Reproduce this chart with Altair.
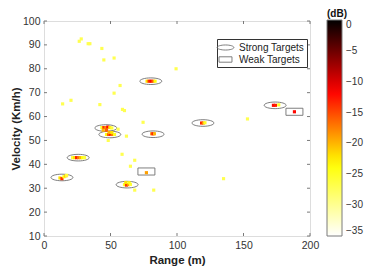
import altair as alt
import pandas as pd

# scattered weak detections (range m, velocity km/h)
noise_x = [26.5, 28, 33.2, 34.5, 43.5, 45, 52.7, 99.3, 57.2, 52.7, 14, 20.3, 42, 59, 60.5,
           74.5, 153, 135, 62, 48.3, 58.7, 68.2, 65, 68.2, 82.5, 55.7]
noise_y = [91.5, 92.5, 90.5, 90.5, 88.5, 83.7, 84.5, 80, 73, 69.8, 65.3, 66.8, 65, 63, 62.5,
           57.6, 59, 34, 51.8, 50, 44.2, 41.7, 39.2, 29.2, 29.2, 54.7]
noise_db = [-27] * len(noise_x)

# detection cells around targets
cell_x = [77.5, 79, 80.5, 82, 83.5,
          172.5, 174, 176.5,
          118.5, 119.8, 121,
          81, 82, 83,
          43.5, 45, 46.5, 48, 49.5, 51, 44.5, 47,
          47, 48.5, 50, 51.5, 53, 49, 51,
          21.5, 23, 24.5, 26, 27.5, 29, 30.5,
          12, 13.5, 15, 16.5, 17,
          60.5, 62, 63.5, 65, 61.5, 64,
          77, 188.3]
cell_y = [74.8, 74.8, 74.8, 74.8, 74.8,
          64.7, 64.7, 64.9,
          57.3, 57.3, 57.4,
          52.8, 52.8, 52.8,
          55.4, 55.4, 55.4, 55.6, 55.4, 55.2, 54.3, 54.3,
          52.5, 52.5, 52.6, 52.5, 52.5, 53.4, 53.3,
          42.8, 42.8, 42.8, 42.8, 42.8, 42.8, 42.8,
          34.3, 34.0, 34.8, 35.2, 35.4,
          31.5, 31.3, 31.5, 31.6, 32.4, 32.3,
          36.5, 62.0]
cell_db = [-22, -14, -12, -16, -24,
           -12, -13, -25,
           -13, -18, -25,
           -18, -12, -20,
           -25, -14, -18, -12, -22, -26, -20, -16,
           -24, -16, -13, -17, -25, -20, -22,
           -26, -22, -13, -17, -20, -24, -26,
           -22, -14, -24, -20, -26,
           -25, -14, -18, -26, -22, -24,
           -19, -12]

# target markers
strong_x = [80.3, 173.8, 119.5, 82, 46.5, 49.5, 25.7, 13.5, 62.5]
strong_y = [74.8, 64.7, 57.3, 52.6, 55.2, 52.5, 42.8, 34.5, 31.5]
weak_x = [77, 188.3]
weak_y = [37, 62]
kinds = ["Strong Targets", "Weak  Targets"]

x_ticks = [0, 50, 100, 150, 200]
y_ticks = [10, 20, 30, 40, 50, 60, 70, 80, 90, 100]
db_ticks = [0, -5, -10, -15, -20, -25, -30, -35]

pts = pd.DataFrame({"x": noise_x + cell_x, "y": noise_y + cell_y, "db": noise_db + cell_db})
tgt = pd.DataFrame({"x": strong_x + weak_x, "y": strong_y + weak_y,
                    "kind": [kinds[0]] * len(strong_x) + [kinds[1]] * len(weak_x)})
xt = pd.DataFrame({"v": x_ticks})
yt = pd.DataFrame({"v": y_ticks})

W, H = 266, 215
FONT = "Liberation Sans"
AX = "#7a7a7a"

xs = alt.Scale(domain=[0, 200], nice=False)
ys = alt.Scale(domain=[10, 100], nice=False)
cs = alt.Scale(domain=[-35, -23.33, -11.67, 0],
               range=["#ffffff", "#ffff00", "#ff0000", "#000000"], interpolate="rgb")

ellipse = "M -1.4 0 A 1.4 0.42 0 1 1 1.4 0 A 1.4 0.42 0 1 1 -1.4 0 Z"
rect = "M -1.08 -0.45 L 1.08 -0.45 L 1.08 0.45 L -1.08 0.45 Z"

common_axis = dict(domain=False, ticks=False, grid=False, labelOverlap=False, labelFlush=False,
                   labelPadding=4, labelFontSize=10.5, labelFont=FONT, labelColor="#333",
                   titleFont=FONT, titleFontSize=11.5, titleFontWeight="bold", titleColor="#222")
xaxis = alt.Axis(values=x_ticks, title="Range (m)", titlePadding=4, **common_axis)
yaxis = alt.Axis(values=y_ticks, title="Velocity (Km/h)", titlePadding=1, **common_axis)

targets = alt.Chart(tgt).mark_point(filled=False, size=247, color="#707070", strokeWidth=0.9,
                                     opacity=1).encode(
    x=alt.X("x:Q", scale=xs, axis=xaxis),
    y=alt.Y("y:Q", scale=ys, axis=yaxis),
    shape=alt.Shape("kind:N", scale=alt.Scale(domain=kinds, range=[ellipse, rect]),
                    legend=alt.Legend(title=None, orient="none", legendX=173, legendY=18,
                                      fillColor="white", strokeColor="#333", padding=2,
                                      symbolSize=144, symbolStrokeWidth=0.9,
                                      labelFont=FONT, labelFontSize=10, labelColor="#222",
                                      rowPadding=0, labelOffset=7)),
)

points = alt.Chart(pts).mark_square(size=10, opacity=1).encode(
    x=alt.X("x:Q", scale=xs, axis=xaxis),
    y=alt.Y("y:Q", scale=ys, axis=yaxis),
    color=alt.Color("db:Q", scale=cs, legend=alt.Legend(
        title="(dB)", orient="none", legendX=283, legendY=-12, direction="vertical",
        gradientLength=216, gradientThickness=15, gradientStrokeColor=AX, gradientStrokeWidth=1,
        values=db_ticks, labelFont=FONT, labelFontSize=10, labelColor="#333", labelOffset=4,
        titleFont=FONT, titleFontSize=10, titleFontWeight="bold",
        titlePadding=1, titleColor="#111")),
)

tick_bottom = alt.Chart(xt).mark_rule(color=AX).encode(
    x=alt.X("v:Q", scale=xs, axis=xaxis), y=alt.value(H), y2=alt.value(H - 3))
tick_top = alt.Chart(xt).mark_rule(color=AX).encode(
    x=alt.X("v:Q", scale=xs, axis=xaxis), y=alt.value(0), y2=alt.value(3))
tick_left = alt.Chart(yt).mark_rule(color=AX).encode(
    y=alt.Y("v:Q", scale=ys, axis=yaxis), x=alt.value(0), x2=alt.value(3))
tick_right = alt.Chart(yt).mark_rule(color=AX).encode(
    y=alt.Y("v:Q", scale=ys, axis=yaxis), x=alt.value(W), x2=alt.value(W - 3))

chart = alt.layer(targets, points, tick_bottom, tick_top, tick_left, tick_right).properties(
    width=W, height=H,
    autosize=alt.AutoSizeParams(type="none"),
    padding={"left": 36, "top": 13, "right": 74, "bottom": 31},
).configure_view(stroke=AX, strokeWidth=1).configure(background="white")

chart.save("out.html", embed_options={"renderer": "svg", "actions": False})
